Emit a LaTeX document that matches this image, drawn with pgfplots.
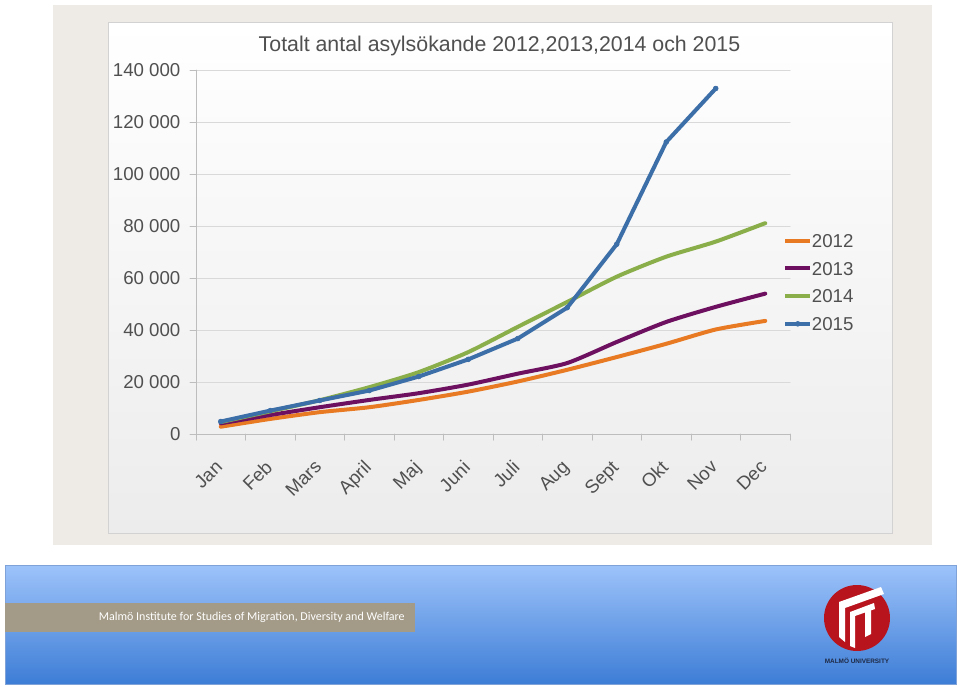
\documentclass[border=0pt]{standalone}
\usepackage{fontspec}
\setmainfont{Liberation Sans}
\newfontfamily\carlito{Carlito}
\usepackage{pgfplots}
\pgfplotsset{compat=1.18}
\definecolor{c12}{HTML}{E87A24}
\definecolor{c13}{HTML}{6E1060}
\definecolor{c14}{HTML}{8AAE4A}
\definecolor{c15}{HTML}{3C6EA8}
\definecolor{panel}{HTML}{EEEBE6}
\definecolor{chartbot}{HTML}{ECECEC}
\definecolor{chartborder}{HTML}{D2D2D2}
\definecolor{axisgray}{HTML}{BDBDBD}
\definecolor{gridgray}{HTML}{D9D9D9}
\definecolor{textgray}{HTML}{505050}
\definecolor{bantop}{HTML}{9DC3FA}
\definecolor{banbot}{HTML}{3D7DD6}
\definecolor{banborder}{HTML}{7FA3D9}
\definecolor{tan}{HTML}{A39A87}
\definecolor{mured}{HTML}{B8141E}
\definecolor{navy}{HTML}{1F2A44}
\begin{document}
\begin{tikzpicture}
\begin{scope}[x=0.75pt,y=-0.75pt]
\fill[white] (0,0) rectangle (960,686);
\fill[panel] (53,5) rectangle (932,545);
\shadedraw[top color=white, bottom color=chartbot, draw=chartborder, line width=0.75pt] (108,22) rectangle (892,533);
\node[anchor=base, font=\fontsize{16}{19}\selectfont, text=textgray, inner sep=0pt] at (499.5,51) {Totalt antal asylsökande 2012,2013,2014 och 2015};
% banner
\shadedraw[top color=bantop, bottom color=banbot, draw=banborder, line width=0.75pt] (5,565) rectangle (956,684);
\fill[tan] (5,603) rectangle (415,632);
\node[anchor=east, font=\carlito\fontsize{9}{11}\selectfont, text=white, inner sep=0pt] at (405,617.5) {Malmö Institute for Studies of Migration, Diversity and Welfare};
% logo
\fill[mured] (857,618) circle (33);
\fill[white] (839,602) -- (881,587) -- (884,594) -- (845,608) -- (845,642) -- (839,637) -- cycle;
\fill[white] (850,612) -- (874,603) -- (875,609) -- (855,616) -- (855,648) -- (850,646) -- cycle;
\fill[white] (865,611) -- (871,609) -- (871,634) -- (865,637) -- cycle;
\node[font=\bfseries\fontsize{4.8}{6}\selectfont, text=navy, inner sep=0pt] at (857,661) {MALMÖ UNIVERSITY};
\end{scope}
\begin{axis}[
  at={(147pt,-325.5pt)}, anchor=south west,
  scale only axis, width=445.5pt, height=273pt,
  xmin=-0.5, xmax=11.5, ymin=0, ymax=140000,
  scaled y ticks=false,
  axis lines=left, axis line style={draw=axisgray, line width=0.75pt, -},
  tick align=outside, major tick length=4.5pt,
  tick style={draw=axisgray, line width=0.75pt},
  xtick={-0.5,0.5,...,11.5},
  x tick label as interval,
  xticklabels={Jan,Feb,Mars,April,Maj,Juni,Juli,Aug,Sept,Okt,Nov,Dec,{}},
  xticklabel style={rotate=45, anchor=north east, inner sep=0pt, xshift=-13.4pt, yshift=-6.6pt},
  ytick={0,20000,40000,60000,80000,100000,120000,140000},
  yticklabels={0,20 000,40 000,60 000,80 000,100 000,120 000,140 000},
  yticklabel style={anchor=east, inner sep=0pt, xshift=-7pt},
  ticklabel style={font=\fontsize{14}{16}\selectfont, text=textgray},
  ymajorgrids, grid style={draw=gridgray, line width=0.75pt},
  legend style={at={(0.9882,0.5503)}, anchor=north west, draw=none, fill=none,
    inner sep=0pt, font=\fontsize{14}{16}\selectfont, text=textgray,
    row sep=10.8pt,
    nodes={inner sep=0pt, text height=10pt, text depth=0pt}},
  legend cell align=left,
  /tikz/every even column/.append style={column sep=1.5pt},
  legend image code/.code={\draw[mark repeat=2, mark phase=2, #1] plot coordinates {(0pt,0pt) (9.4pt,0pt) (18.5pt,0pt)};},
  line join=round, line cap=round,
]
\addplot[c12, line width=3pt, no markers, smooth, tension=0.4] coordinates {
(0,2800) (1,5800) (2,8400) (3,10300) (4,13100) (5,16300) (6,20200) (7,24700) (8,29600) (9,34700) (10,40200) (11,43500)};
\addlegendentry{2012}
\addplot[c13, line width=3pt, no markers, smooth, tension=0.4] coordinates {
(0,4100) (1,7300) (2,10300) (3,13100) (4,15700) (5,19000) (6,23200) (7,27300) (8,35400) (9,43100) (10,48900) (11,54000)};
\addlegendentry{2013}
\addplot[c14, line width=3pt, no markers, smooth, tension=0.4] coordinates {
(0,4600) (1,8700) (2,13000) (3,18000) (4,23800) (5,31500) (6,41200) (7,50800) (8,60500) (9,68200) (10,74000) (11,81100)};
\addlegendentry{2014}
\addplot[c15, line width=3pt, mark=*, mark size=1.8pt, mark options={fill=c15, draw=c15, line width=0.5pt}] coordinates {
(0,4800) (1,9000) (2,12900) (3,16700) (4,22100) (5,28700) (6,36700) (7,48600) (8,73000) (9,112300) (10,132900)};
\addlegendentry{2015}
\end{axis}
\pgfresetboundingbox
\path[use as bounding box] (0,0) rectangle (720pt,-514.5pt);
\end{tikzpicture}
\end{document}
